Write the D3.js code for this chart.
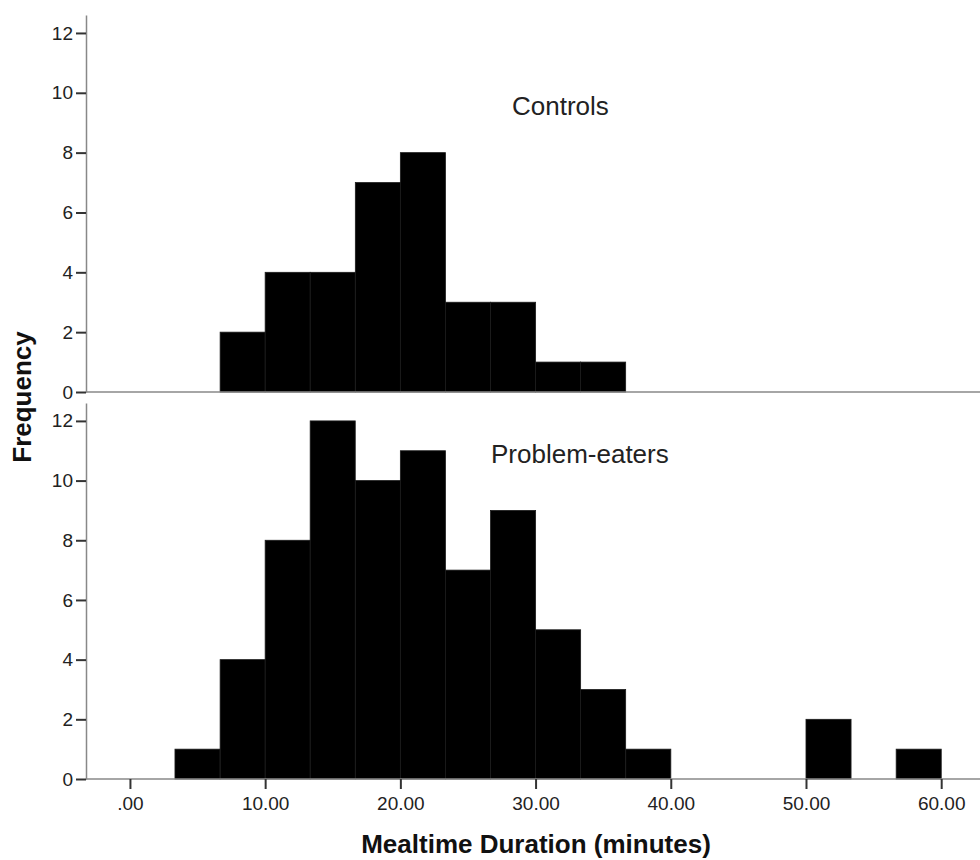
<!DOCTYPE html>
<html>
<head>
<meta charset="utf-8">
<script src="https://cdn.jsdelivr.net/npm/d3@7.9.0/dist/d3.min.js"></script>
<style>
  body { margin: 0; background: #fff; }
  svg { display: block; font-family: "Liberation Sans", Arial, sans-serif; }
</style>
</head>
<body>
<svg id="chart" width="980" height="860"></svg>
<script>
// histogram bins (lower bound of each bin, minutes) and counts
const binWidth = 10 / 3;
const controlBins = [6.67, 10, 13.33, 16.67, 20, 23.33, 26.67, 30, 33.33];
const controlCounts = [2, 4, 4, 7, 8, 3, 3, 1, 1];
const problemBins = [3.33, 6.67, 10, 13.33, 16.67, 20, 23.33, 26.67, 30, 33.33, 36.67, 50, 56.67];
const problemCounts = [1, 4, 8, 12, 10, 11, 7, 9, 5, 3, 1, 2, 1];
const xTicks = [0, 10, 20, 30, 40, 50, 60];
const xTickLabels = ['.00', '10.00', '20.00', '30.00', '40.00', '50.00', '60.00'];
const yTicks = [0, 2, 4, 6, 8, 10, 12];

const svg = d3.select('#chart');

const x = d3.scaleLinear().domain([-3.25, 62.87]).range([86, 980]);

const panels = [
  { name: 'Controls', bins: controlBins, counts: controlCounts, top: 15, bottom: 392, lx: 512, ly: 115 },
  { name: 'Problem-eaters', bins: problemBins, counts: problemCounts, top: 403, bottom: 779, lx: 491, ly: 463 }
];

panels.forEach((p, i) => {
  const y = d3.scaleLinear().domain([0, 12.6]).range([p.bottom, p.top]);
  const g = svg.append('g');

  // bars
  g.selectAll('rect')
    .data(p.bins.map((b, j) => ({ x0: b, n: p.counts[j] })))
    .join('rect')
    .attr('x', d => x(d.x0))
    .attr('y', d => y(d.n))
    .attr('width', d => x(d.x0 + binWidth) - x(d.x0))
    .attr('height', d => y(0) - y(d.n))
    .attr('fill', '#000')
    .attr('stroke', '#1c1c1c')
    .attr('stroke-width', 0.8);

  // baseline
  g.append('line')
    .attr('x1', x.range()[0]).attr('x2', x.range()[1])
    .attr('y1', y(0)).attr('y2', y(0))
    .attr('stroke', '#888').attr('stroke-width', 1.5);

  // y axis
  const ya = g.append('g')
    .attr('transform', `translate(${x.range()[0]},0)`)
    .call(d3.axisLeft(y).tickValues(yTicks).tickSize(10).tickSizeOuter(0).tickPadding(3));
  ya.select('.domain').attr('stroke', '#888').attr('stroke-width', 1.5);
  ya.selectAll('.tick line').attr('stroke', '#333').attr('stroke-width', 2);
  ya.selectAll('.tick text').attr('font-size', 19).attr('fill', '#222')
    .attr('font-family', '"Liberation Sans", Arial, sans-serif');

  // panel label
  g.append('text')
    .attr('x', p.lx).attr('y', p.ly)
    .attr('font-size', 26).attr('fill', '#222')
    .text(p.name);

  // x axis only under the lower panel
  if (i === 1) {
    const xa = g.append('g')
      .attr('transform', `translate(0,${y(0)})`)
      .call(d3.axisBottom(x).tickValues(xTicks).tickFormat((d, k) => xTickLabels[k])
        .tickSize(10).tickSizeOuter(0).tickPadding(8));
    xa.select('.domain').remove();
    xa.selectAll('.tick line').attr('stroke', '#333').attr('stroke-width', 2);
    xa.selectAll('.tick text').attr('font-size', 19).attr('fill', '#222')
      .attr('font-family', '"Liberation Sans", Arial, sans-serif');
  }
});

// axis titles
svg.append('text')
  .attr('transform', 'translate(31,397) rotate(-90)')
  .attr('text-anchor', 'middle')
  .attr('font-size', 26).attr('font-weight', 'bold').attr('fill', '#111')
  .text('Frequency');

svg.append('text')
  .attr('x', 536).attr('y', 853)
  .attr('text-anchor', 'middle')
  .attr('font-size', 26).attr('font-weight', 'bold').attr('fill', '#111')
  .text('Mealtime Duration (minutes)');
</script>
</body>
</html>
